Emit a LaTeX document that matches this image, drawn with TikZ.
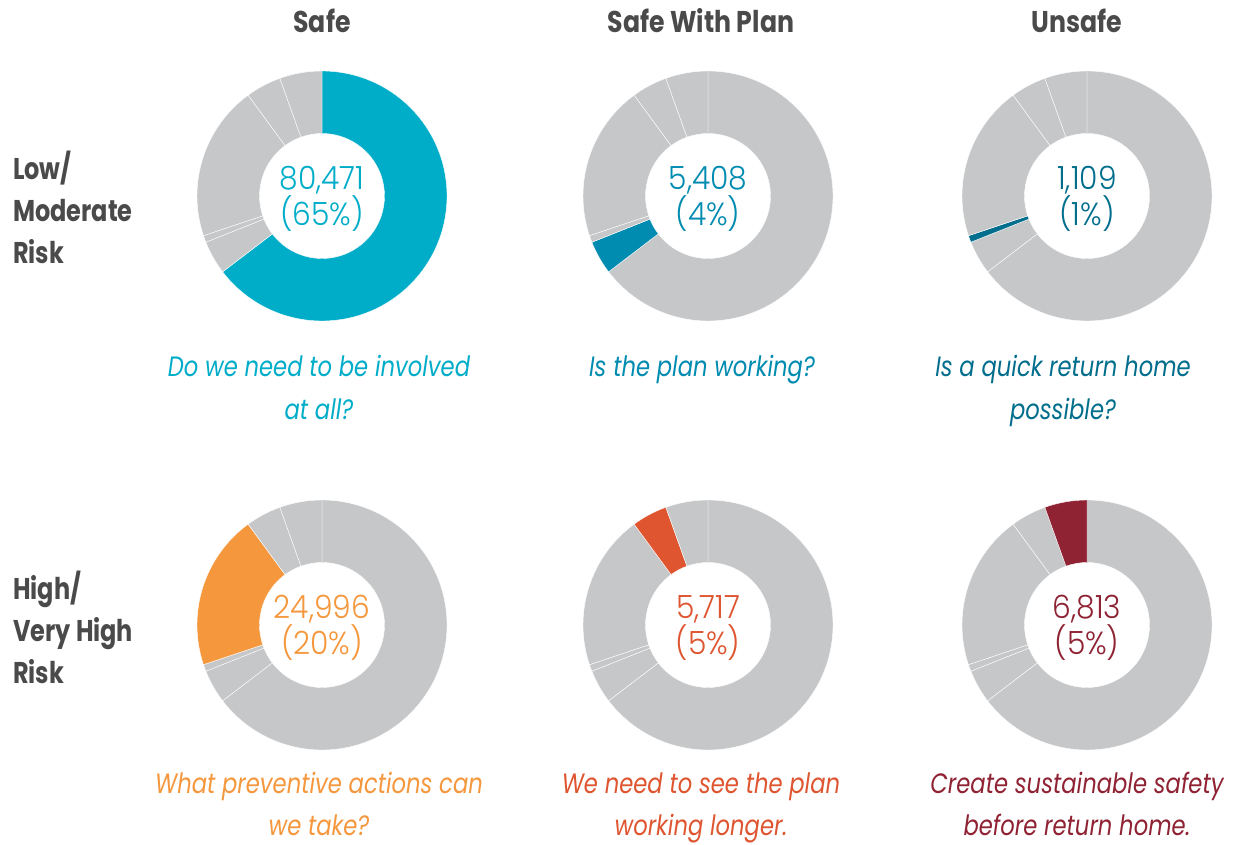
\documentclass[tikz,border=0pt]{standalone}
\usepackage{fontspec}
\newfontfamily\hdfont{Poppins Bold}[FakeStretch=0.84]
\newfontfamily\rowfont{Poppins Bold}[FakeStretch=0.8]
\newfontfamily\numfont{Poppins Light}[FakeStretch=0.93]
\newfontfamily\qfont{Poppins Italic}[FakeStretch=0.81]
\definecolor{headgray}{HTML}{4A4A4A}
\definecolor{ringgray}{HTML}{C6C7C9}
\definecolor{cA}{HTML}{00ADC9}
\definecolor{cB}{HTML}{008BB0}
\definecolor{cC}{HTML}{006E8C}
\definecolor{cD}{HTML}{F5973D}
\definecolor{cE}{HTML}{DE5530}
\definecolor{cF}{HTML}{8F2233}
% #1 centre x, #2 centre y, #3 highlighted segment, #4 colour
\newcommand\drawdonut[4]{%
  \begin{scope}[shift={(#1,#2)}]
    \foreach \sa/\sb/\k in {90/-142.66/1, -142.66/-158.30/2, -158.30/-161.50/3,
                            -161.50/-233.77/4, -233.77/-250.30/5, -250.30/-270/6}{
      \ifnum\k=#3\relax\def\segcol{#4}\else\def\segcol{ringgray}\fi
      \fill[fill=\segcol, draw=white, line width=0.4pt]
        (\sa:125pt) arc[start angle=\sa, end angle=\sb, radius=125pt]
        -- (\sb:62.5pt) arc[start angle=\sb, end angle=\sa, radius=62.5pt] -- cycle;
    }
  \end{scope}}
\begin{document}
\begin{tikzpicture}[x=1pt,y=1pt,
  hdlabel/.style={font=\hdfont\fontsize{30}{42}\selectfont, text=headgray, inner sep=0pt},
  rowlabel/.style={font=\rowfont\fontsize{30}{42}\selectfont, text=headgray, inner sep=0pt, align=left, anchor=base west},
  numlabel/.style={font=\numfont\fontsize{32}{36}\selectfont, inner sep=0pt, align=center, anchor=base},
  qlabel/.style={font=\qfont\fontsize{28}{43}\selectfont, inner sep=0pt, align=center, anchor=base}]
\fill[white] (0,0) rectangle (1243,844);
\useasboundingbox (0,0) rectangle (1243,844);
% column headers
\node[hdlabel, anchor=base] (hsafe) at (322,811) {Safe};
\node[hdlabel, anchor=base] (hplan) at (701,811) {Safe With Plan};
\node[hdlabel, anchor=base] (hunsafe) at (1077,811) {Unsafe};
% row labels (base = last line)
\node[rowlabel] (rlow) at (13,580) {Low/\\Moderate\\Risk};
\node[rowlabel] (rhigh) at (13,160) {High/\\Very High\\Risk};
% donuts
\drawdonut{322}{648}{1}{cA}
\drawdonut{708}{648}{2}{cB}
\drawdonut{1087}{648}{3}{cC}
\drawdonut{322}{219}{4}{cD}
\drawdonut{708}{219}{5}{cE}
\drawdonut{1087}{219}{6}{cF}
% numbers (base = last line)
\node[numlabel, text=cA] (nA) at (322,618) {80,471\\(65\%)};
\node[numlabel, text=cB] (nB) at (708,618) {5,408\\(4\%)};
\node[numlabel, text=cC] (nC) at (1087,618) {1,109\\(1\%)};
\node[numlabel, text=cD] (nD) at (322,189) {24,996\\(20\%)};
\node[numlabel, text=cE] (nE) at (708,189) {5,717\\(5\%)};
\node[numlabel, text=cF] (nF) at (1087,189) {6,813\\(5\%)};
% questions (base = last line)
\node[qlabel, text=cA] (qA) at (319,424) {Do we need to be involved\\at all?};
\node[qlabel, text=cB] (qB) at (702,467) {Is the plan working?};
\node[qlabel, text=cC] (qC) at (1063,424) {Is a quick return home\\possible?};
\node[qlabel, text=cD] (qD) at (319,8) {What preventive actions can\\we take?};
\node[qlabel, text=cE] (qE) at (701,8) {We need to see the plan\\working longer.};
\node[qlabel, text=cF] (qF) at (1077,8) {Create sustainable safety\\before return home.};
\end{tikzpicture}
\end{document}
